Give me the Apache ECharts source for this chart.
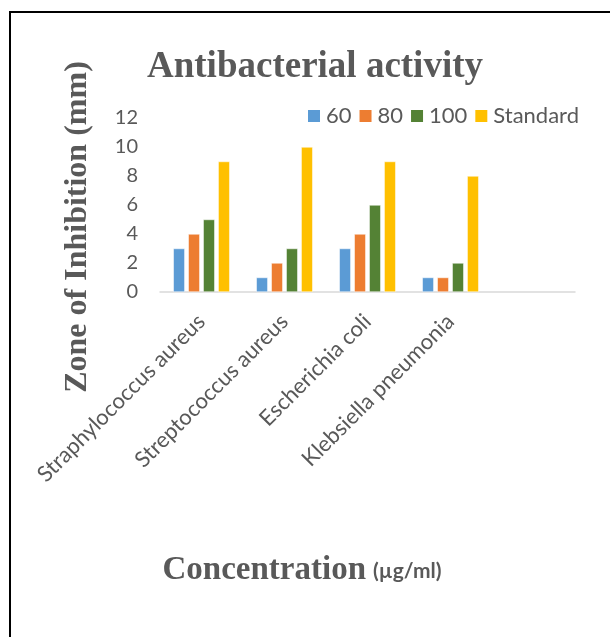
<!DOCTYPE html>
<html>
<head>
<meta charset="utf-8">
<script src="https://cdn.jsdelivr.net/npm/echarts@6/dist/echarts.min.js"></script>
<style>html,body{margin:0;padding:0;background:#fff}#c{width:610px;height:637px}</style>
</head>
<body>
<div id="c"></div>
<script>
const categories = ['Straphylococcus aureus', 'Streptococcus aureus', 'Escherichia coli', 'Klebsiella pneumonia', ''];
const seriesNames = ['60', '80', '100', 'Standard'];
const s60 = [3, 1, 3, 1];
const s80 = [4, 2, 4, 1];
const s100 = [5, 3, 6, 2];
const sStandard = [9, 10, 9, 8];
const yTicks = [0, 2, 4, 6, 8, 10, 12];

const colors = ['#5B9BD5', '#ED7D31', '#548235', '#FFC000'];
const values = [s60, s80, s100, sStandard];
const sans = 'Lato, "Liberation Sans", sans-serif';
const serif = '"Liberation Serif", "DejaVu Serif", serif';
const chart = echarts.init(document.getElementById('c'));
chart.setOption({
  animation: false,
  backgroundColor: '#fff',
  color: colors,
  legend: {
    data: seriesNames,
    left: 306, top: 105, padding: 0,
    itemWidth: 14, itemHeight: 14, itemGap: 6,
    icon: 'rect',
    textStyle: { fontFamily: sans, fontSize: 22, color: '#595959' }
  },
  grid: { left: 160, right: 35, top: 118, bottom: 345 },
  xAxis: {
    type: 'category',
    data: categories,
    axisLine: { lineStyle: { color: '#d9d9d9', width: 1.5 } },
    axisTick: { show: false },
    axisLabel: { rotate: 45, interval: 0, margin: 26, fontFamily: sans, fontSize: 22, color: '#595959' }
  },
  yAxis: {
    type: 'value', min: yTicks[0], max: yTicks[yTicks.length - 1], interval: 2,
    axisLine: { show: false }, axisTick: { show: false },
    splitLine: { show: false },
    axisLabel: { margin: 22, fontFamily: sans, fontSize: 20, color: '#595959' }
  },
  series: seriesNames.map((n, i) => ({
    name: n, type: 'bar', data: values[i],
    barGap: '30%', barCategoryGap: '32%',
    itemStyle: { color: colors[i], borderColor: '#fff', borderWidth: 0.5 }
  })),
  graphic: [
    { type: 'line', shape: { x1: 10, y1: 12, x2: 10, y2: 640 }, style: { stroke: '#000', lineWidth: 2 } },
    { type: 'line', shape: { x1: 9, y1: 12, x2: 612, y2: 12 }, style: { stroke: '#000', lineWidth: 2 } },
    { type: 'text', x: 315, y: 67, style: { text: 'Antibacterial activity', font: 'bold 37px ' + serif, fill: '#595959', align: 'center', verticalAlign: 'middle' } },
    { type: 'text', x: 78, y: 227, rotation: Math.PI / 2, style: { text: 'Zone of Inhibition (mm)', font: 'bold 32px ' + serif, fill: '#595959', align: 'center', verticalAlign: 'middle' } },
    { type: 'text', x: 302, y: 570, style: {
        text: '{a|Concentration}{b|(µg/ml)}', align: 'center', verticalAlign: 'middle',
        rich: {
          a: { fontFamily: serif, fontWeight: 'bold', fontSize: 33, fill: '#595959', color: '#595959' },
          b: { fontFamily: sans, fontWeight: 'bold', fontSize: 21, fill: '#595959', color: '#595959', padding: [3, 0, 0, 7] }
        }
      } }
  ]
});
</script>
</body>
</html>
